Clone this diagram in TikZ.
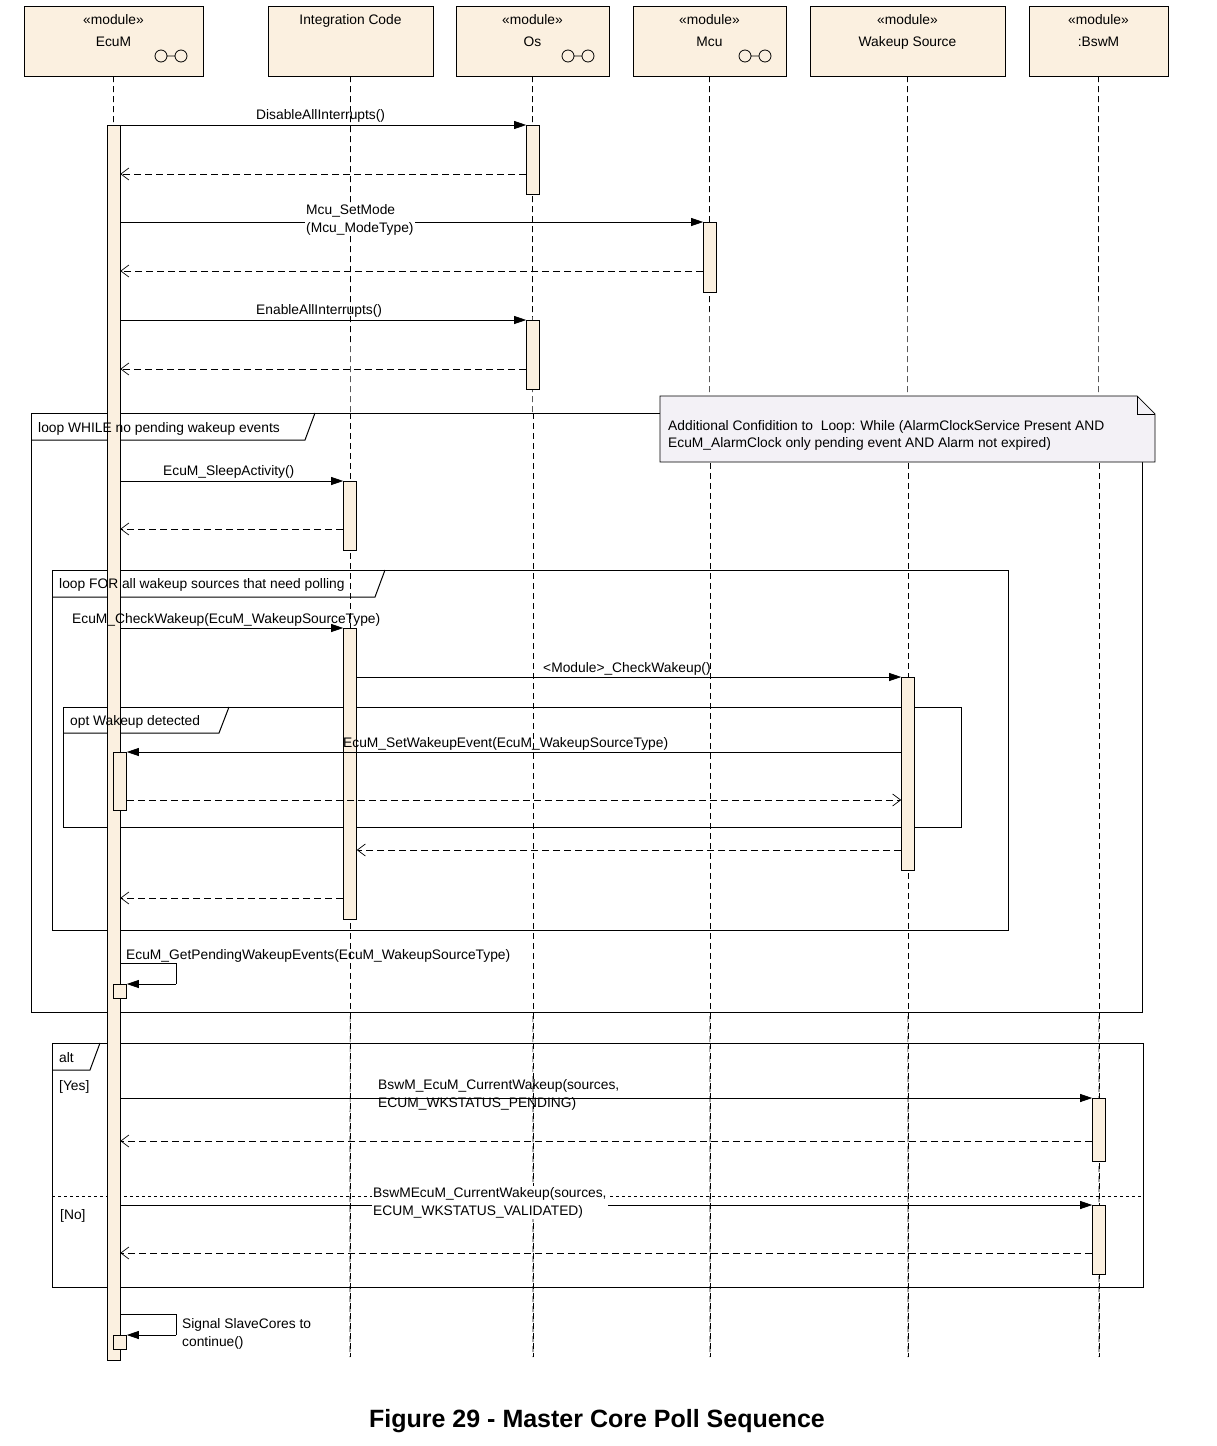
\documentclass[tikz,border=0pt]{standalone}
\usepackage{fontspec}
\setmainfont{Liberation Sans}
\usetikzlibrary{arrows.meta}
\definecolor{cream}{HTML}{FBF0E0}
\definecolor{notef}{HTML}{F3F1F6}
\begin{document}
\begin{tikzpicture}[x=1pt,y=-1pt,font=\fontsize{13.8}{18}\selectfont,
 act/.style={draw,fill=cream,line width=0.6pt},
 life/.style={dash pattern=on 6pt off 4pt,line width=0.7pt},
 msg/.style={line width=0.7pt,-{Triangle[length=12pt,width=8pt]}},
 ret/.style={line width=0.7pt,dash pattern=on 7pt off 4pt,-{Straight Barb[length=8pt,width=12pt]}},
 frm/.style={draw,line width=1pt},
 lbl/.style={inner sep=0pt,anchor=base west}]
\useasboundingbox (0,0) rectangle (1217,1446);
% headers
\foreach \n/\x/\w/\t in {ecum/24/179/{«module»\\EcuM},ic/268/165/{Integration Code\\\ },os/456/153/{«module»\\Os},mcu/633/153/{«module»\\Mcu},ws/810/195/{«module»\\Wakeup Source},bswm/1029/139/{«module»\\:BswM}}{
 \draw[fill=cream,line width=0.8pt] (\x,6) rectangle ++(\w,70);
 \node[align=center,anchor=north,inner sep=0pt,font=\fontsize{13.8}{22}\selectfont] (\n) at (\x+\w/2,14) {\t};
 \coordinate (\n b) at (\x+\w/2,76);
}
\foreach \x in {161,568,745}{\draw[line width=0.8pt] (\x,56) circle (6) (\x+20,56) circle (6) (\x+6,56)--(\x+14,56);}
% lifelines
\foreach \n/\x in {ecum/113,ic/350,os/533,mcu/710,ws/908,bswm/1099}{\coordinate (\n e) at (\x,1357); \draw[life] (\n b)--(\n e);}
% frames
\draw[frm,fill=white] (31,413) rectangle (1142,1012);
\draw[frm] (31,440)--(305,440)--(315,413);
\draw[frm] (52,570) rectangle (1008,930);
\draw[frm] (52,597)--(375,597)--(385,570);
\draw[frm] (63,707) rectangle (961,827);
\draw[frm] (63,733)--(219,733)--(229,707);
\draw[frm] (52,1043) rectangle (1143,1287);
\draw[frm] (52,1070)--(90,1070)--(100,1043);
\draw[line width=0.8pt,dash pattern=on 3pt off 3pt] (52,1196)--(1143,1196);
% redraw lifelines over frames' fill
\foreach \n/\x in {ecum/113,ic/350,os/533,mcu/710,ws/908,bswm/1099}{\draw[life] (\x,413)--(\n e);}
% note
\draw[fill=notef,line width=0.7pt] (660,396)--(1137,396)--(1155,414)--(1155,462)--(660,462)--cycle;
\draw[line width=0.7pt] (1137,396)--(1137,414)--(1155,414);
\node[lbl,align=left] at (668,430) {Additional Confidition to\ \ Loop: While (AlarmClockService Present AND};
\node[lbl] at (668,447) {EcuM\_AlarmClock only pending event AND Alarm not expired)};
% activations
\node[act,minimum width=13pt,minimum height=1235pt,inner sep=0pt,anchor=north] (a0) at (113.5,125) {};
\foreach \n/\x/\y/\h in {a1/533/125/69,a2/710/222/70,a3/533/320/69,a4/350/481/69,a5/350/628/291,a6/908/677/193,a7/120/752/58,a8/1099/1098/63,a9/1099/1205/69}{
 \node[act,minimum width=13pt,minimum height=\h pt,inner sep=0pt,anchor=north] (\n) at (\x,\y) {};}
\node[act,minimum width=13pt,minimum height=14pt,inner sep=0pt,anchor=north] (s1) at (120,984) {};
\node[act,minimum width=13pt,minimum height=14pt,inner sep=0pt,anchor=north] (s2) at (120,1335) {};
% frame labels
\node[lbl] at (38,432) {loop WHILE no pending wakeup events};
\node[lbl] at (59,588) {loop FOR all wakeup sources that need polling};
\node[lbl] at (70,725) {opt Wakeup detected};
\node[lbl] at (59,1062) {alt};
\node[lbl] at (59,1090) {[Yes]};
\node[lbl] at (60,1219) {[No]};
% messages
\draw[msg] (a0.east|-0,125)--(a1.north west);
\node[lbl] at (256,119) {DisableAllInterrupts()};
\draw[ret] (a1.west|-0,174)--(a0.east|-0,174);
\draw[msg] (a0.east|-0,222)--(a2.north west);
\node[lbl,fill=white,inner sep=1pt,align=left,anchor=north west] at (305,203) {Mcu\_SetMode\\(Mcu\_ModeType)};
\draw[ret] (a2.west|-0,271)--(a0.east|-0,271);
\draw[msg] (a0.east|-0,320)--(a3.north west);
\node[lbl] at (256,314) {EnableAllInterrupts()};
\draw[ret] (a3.west|-0,369)--(a0.east|-0,369);
\draw[msg] (a0.east|-0,481)--(a4.north west);
\node[lbl] at (163,475) {EcuM\_SleepActivity()};
\draw[ret] (a4.west|-0,529)--(a0.east|-0,529);
\draw[msg] (a0.east|-0,628)--(a5.north west);
\node[lbl] at (72,623) {EcuM\_CheckWakeup(EcuM\_WakeupSourceType)};
\draw[msg] (a5.east|-0,677)--(a6.north west);
\node[lbl] at (543,672) {<Module>\_CheckWakeup()};
\draw[msg] (a6.west|-0,752)--(a7.north east);
\node[lbl] at (343,747) {EcuM\_SetWakeupEvent(EcuM\_WakeupSourceType)};
\draw[ret] (a7.east|-0,800)--(a6.west|-0,800);
\draw[ret] (a6.west|-0,850)--(a5.east|-0,850);
\draw[ret] (a5.west|-0,898)--(a0.east|-0,898);
\draw[line width=0.7pt] (a0.east|-0,963)--(176,963)--(176,984);
\draw[msg] (176,984)--(s1.north east);
\node[lbl] at (126,959) {EcuM\_GetPendingWakeupEvents(EcuM\_WakeupSourceType)};
\draw[msg] (a0.east|-0,1098)--(a8.north west);
\node[lbl,align=left,anchor=north west] at (378,1079) {BswM\_EcuM\_CurrentWakeup(sources,\\ECUM\_WKSTATUS\_PENDING)};
\draw[ret] (a8.west|-0,1141)--(a0.east|-0,1141);
\draw[msg] (a0.east|-0,1205)--(a9.north west);
\node[lbl,align=left,anchor=north west,fill=white,inner sep=1pt] at (372,1186) {BswMEcuM\_CurrentWakeup(sources,\\ECUM\_WKSTATUS\_VALIDATED)};
\draw[ret] (a9.west|-0,1253)--(a0.east|-0,1253);
\draw[line width=0.7pt] (a0.east|-0,1314)--(176,1314)--(176,1335);
\draw[msg] (176,1335)--(s2.north east);
\node[lbl,align=left,anchor=north west] at (182,1318) {Signal SlaveCores to\\continue()};
% caption
\node[font=\fontsize{25}{30}\selectfont\bfseries] (cap) at (597,1421) {Figure 29 - Master Core Poll Sequence};
\end{tikzpicture}
\end{document}
